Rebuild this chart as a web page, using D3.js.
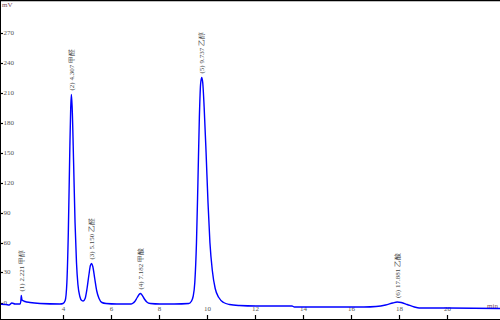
<!DOCTYPE html>
<html><head><meta charset="utf-8">
<script src="https://cdn.jsdelivr.net/npm/d3@7/dist/d3.min.js"></script>
<style>html,body{margin:0;padding:0;background:#fff;}svg{display:block;}</style>
</head><body>
<svg id="c" width="500" height="320"></svg>
<script>
// chromatogram trace (time in min, signal in mV)
const times = [1.33,1.58,1.71,1.83,1.96,2.17,2.20,2.221,2.25,2.375,2.58,3.0,3.83,3.96,
  4.05,4.12,4.18,4.24,4.28,4.307,4.34,4.40,4.46,4.52,4.58,4.66,4.74,4.80,
  4.88,4.96,5.04,5.10,5.150,5.20,5.28,5.36,5.46,5.58,5.75,6.2,6.8,
  6.85,6.95,7.05,7.13,7.182,7.25,7.35,7.45,7.6,8.0,8.6,9.2,
  9.30,9.38,9.45,9.52,9.58,9.64,9.69,9.737,9.78,9.84,9.92,10.00,10.08,10.18,10.3,10.45,10.65,10.9,11.3,12.0,13.5,13.6,16.5,
  17.0,17.4,17.7,17.881,18.05,18.3,18.6,18.8,20.0,22.3];
const signal = [-1.8,-2,-2.5,-0.5,-1.5,-1.5,1,7,2.5,1,0,-1,-1.5,-1,
  2,20,70,150,195,208,195,140,80,40,18,6,2,1.5,
  4,14,28,37,39,36,24,12,4,0,-1,-1.5,-1.5,
  -1,1,5,8,9,7.5,3.5,0.5,-1,-1.5,-1.5,-1,
  1,6,20,60,120,185,218,225,220,195,150,100,60,32,14,5,0,-2,-3,-3.5,-3.5,-4.5,-4.5,
  -4,-2.5,-0.5,0.5,0,-2,-4.5,-5.5,-5.5,-6];
// peak annotations
const peakTimes = [2.221, 4.307, 5.150, 7.182, 9.737, 17.881];
const peakHeights = [7, 208, 39, 9, 225, 0.5];
const peakLabels = ["(1) 2.221 甲醇","(2) 4.307 甲醛","(3) 5.150 乙醛","(4) 7.182 甲酸","(5) 9.737 乙醇","(6) 17.881 乙酸"];
// axis ticks
const xTicks = [4,6,8,10,12,14,16,18,20];
const yTicks = [0,30,60,90,120,150,180,210,240,270];

const W = 500, H = 320;
const svg = d3.select("#c");
const x = d3.scaleLinear().domain([4,20]).range([64,448]);
const y = d3.scaleLinear().domain([0,270]).range([302.5,32.5]);
const font = "'Liberation Serif','DejaVu Serif',serif";

// frame
svg.append("line").attr("x1",0).attr("x2",W).attr("y1",0.5).attr("y2",0.5).attr("stroke","#000").attr("stroke-width",1.5);
svg.append("line").attr("x1",0.5).attr("x2",0.5).attr("y1",0).attr("y2",H).attr("stroke","#000").attr("stroke-width",1);
svg.append("line").attr("x1",0).attr("x2",W).attr("y1",319.5).attr("y2",319.5).attr("stroke","#000").attr("stroke-width",1);

// y ticks
const yg = svg.append("g");
yTicks.forEach(v=>{
  const yy = Math.round(y(v))+0.5;
  yg.append("line").attr("x1",0).attr("x2",3).attr("y1",yy).attr("y2",yy).attr("stroke","#000").attr("stroke-width",1.2);
  yg.append("text").attr("x",3.5).attr("y",yy-1).attr("dominant-baseline","central")
    .attr("font-family",font).attr("font-size",7).attr("fill","#555").text(v);
});
svg.append("text").attr("x",2).attr("y",7).attr("font-family",font).attr("font-size",7).attr("fill","#7a4a5a").text("mV");

// x ticks
const xg = svg.append("g");
xTicks.forEach(v=>{
  const xx = Math.round(x(v))-0.5;
  xg.append("line").attr("x1",xx).attr("x2",xx).attr("y1",315).attr("y2",320).attr("stroke","#000").attr("stroke-width",1.2);
  xg.append("text").attr("x",xx).attr("y",309).attr("text-anchor","middle").attr("dominant-baseline","central")
    .attr("font-family",font).attr("font-size",7).attr("fill","#555").text(v);
});
svg.append("text").attr("x",498).attr("y",306).attr("text-anchor","end").attr("dominant-baseline","central")
  .attr("font-family",font).attr("font-size",7).attr("fill","#7a4a5a").text("min");

// trace
const pts = times.map((t,i)=>[t,signal[i]]);
svg.append("defs").append("clipPath").attr("id","clip").append("rect").attr("x",1).attr("y",1).attr("width",W-1).attr("height",318);
svg.append("path").attr("clip-path","url(#clip)")
  .attr("d", d3.line().x(d=>x(d[0])).y(d=>y(d[1])).curve(d3.curveMonotoneX)(pts))
  .attr("fill","none").attr("stroke","#0000ff").attr("stroke-width",1.4);

// peak labels
peakTimes.forEach((t,i)=>{
  const px = x(t)+2.5, py = y(peakHeights[i])-4;
  svg.append("text").attr("transform",`translate(${px},${py}) rotate(-90)`)
    .attr("font-family",font).attr("font-size",7).attr("fill","#444").text(peakLabels[i]);
});
</script>
</body></html>
